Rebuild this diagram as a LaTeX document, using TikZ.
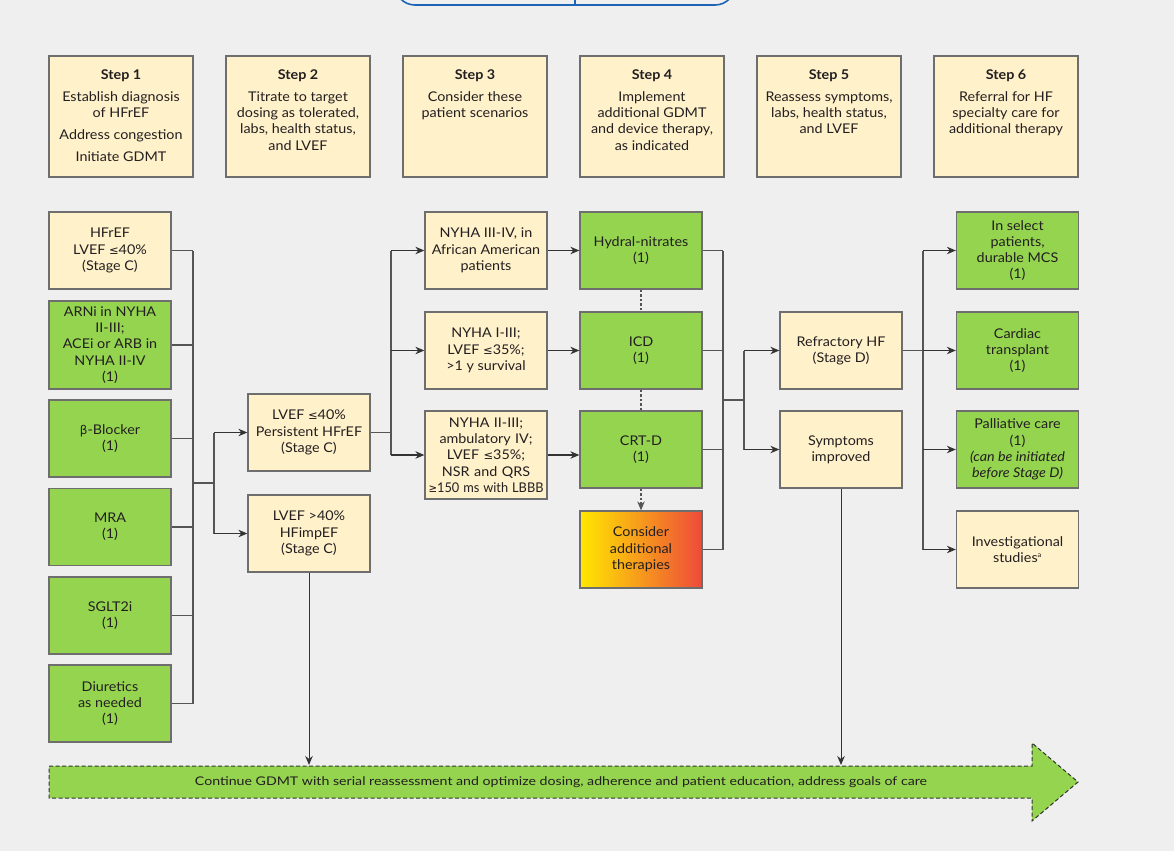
\documentclass[tikz,border=0pt]{standalone}
\usepackage{fontspec}
\setmainfont{Lato}[FakeStretch=1.07]
\newfontfamily\symf{DejaVu Sans}
\usetikzlibrary{arrows.meta}
\newcommand{\myle}{{\symf\fontsize{11.5}{11}\selectfont ≤}}
\newcommand{\myge}{{\symf\fontsize{11.5}{11}\selectfont ≥}}
\newcommand{\mybeta}{{\symf\fontsize{12}{11}\selectfont β}}
\definecolor{bgc}{HTML}{EFEFEF}
\definecolor{creamc}{HTML}{FFF1CA}
\definecolor{greenc}{HTML}{94D44F}
\definecolor{bordc}{HTML}{6E6E6E}
\definecolor{linec}{HTML}{555555}
\definecolor{arrc}{HTML}{333333}
\definecolor{txtc}{HTML}{231F20}
\definecolor{bluec}{HTML}{1E64B4}
\definecolor{yelc}{HTML}{FFE800}
\definecolor{orac}{HTML}{F8A92A}
\definecolor{redc}{HTML}{EE4A3A}
\begin{document}
\begin{tikzpicture}[x=1pt,y=-1pt,
  boxfont/.style={font=\fontsize{13.4}{16.3}\selectfont},
  base/.style={draw=bordc, line width=1.3pt, align=center, minimum width=122pt,
    minimum height=77pt, inner sep=1pt, text=txtc, boxfont},
  creambox/.style={base, fill=creamc},
  greenbox/.style={base, fill=greenc},
  stepbox/.style={draw=bordc, line width=1.3pt, fill=creamc, minimum width=144pt, minimum height=121pt, inner sep=0pt},
  steptext/.style={anchor=north, align=center, inner sep=0pt, text=txtc, boxfont},
  conn/.style={draw=linec, line width=1.2pt},
  arr/.style={draw=arrc, line width=1.2pt, -{Stealth[length=9pt,width=7.5pt]}},
  dotl/.style={draw=linec, line width=1.2pt, dash pattern=on 2.5pt off 2pt},
]
\useasboundingbox (0,0) rectangle (1174,851);
\fill[bgc] (0,0) rectangle (1174,851);
\begin{scope}
\clip (0,0) rectangle (1174,851);
\draw[bluec, line width=1.6pt, rounded corners=20pt] (395,-60) rectangle (735,5);
\draw[bluec, line width=1.2pt] (575,-10) -- (575,5);
\end{scope}

% Step boxes
\foreach \i/\cx in {1/121,2/298,3/475,4/652,5/829,6/1006}{
  \node[stepbox] (s\i) at (\cx,116.5) {};
}
\node[steptext] (t1) at ([yshift=-14pt]s1.north) {\textbf{Step 1}\\[5.5pt]Establish diagnosis\\of HFrEF\\[5.5pt]Address congestion\\[5.5pt]Initiate GDMT};
\node[steptext] (t2) at ([yshift=-14pt]s2.north) {\textbf{Step 2}\\[5.5pt]Titrate to target\\dosing as tolerated,\\labs, health status,\\and LVEF};
\node[steptext] (t3) at ([yshift=-14pt]s3.north) {\textbf{Step 3}\\[5.5pt]Consider these\\patient scenarios};
\node[steptext] (t4) at ([yshift=-14pt]s4.north) {\textbf{Step 4}\\[5.5pt]Implement\\additional GDMT\\and device therapy,\\as indicated};
\node[steptext] (t5) at ([yshift=-14pt]s5.north) {\textbf{Step 5}\\[5.5pt]Reassess symptoms,\\labs, health status,\\and LVEF};
\node[steptext] (t6) at ([yshift=-14pt]s6.north) {\textbf{Step 6}\\[5.5pt]Referral for HF\\specialty care for\\additional therapy};

% Left column
\node[creambox] (hfref) at (110,250.5) {HFrEF\\LVEF \myle40\%\\(Stage C)};
\node[greenbox, minimum height=88pt] (arni) at (110,345) {ARNi in NYHA\\II-III;\\ACEi or ARB in\\NYHA II-IV\\(1)};
\node[greenbox] (beta) at (110,438.5) {\mybeta-Blocker\\(1)};
\node[greenbox] (mra) at (110,527) {MRA\\(1)};
\node[greenbox] (sglt) at (110,615.5) {SGLT2i\\(1)};
\node[greenbox] (diur) at (110,703.5) {Diuretics\\as needed\\(1)};

% Step 2 column
\node[creambox] (lvefA) at (309,432.5) {LVEF \myle40\%\\Persistent HFrEF\\(Stage C)};
\node[creambox] (lvefB) at (309,533.5) {LVEF >40\%\\HFimpEF\\(Stage C)};

% Step 3 column
\node[creambox] (nyhaA) at (486,250.5) {NYHA III-IV, in\\African American\\patients};
\node[creambox] (nyhaB) at (486,350.5) {NYHA I-III;\\LVEF \myle35\%;\\>1 y survival};
\node[creambox, minimum height=88pt, text width=120pt, inner sep=0pt] (nyhaC) at (486,455) {NYHA II-III;\\ambulatory IV;\\LVEF \myle35\%;\\NSR and QRS\\\resizebox{115pt}{\height}{\myge150 ms with LBBB}};

% Step 4 column
\node[greenbox] (hydral) at (641,250.5) {Hydral-nitrates\\(1)};
\node[greenbox] (icd) at (641,350.5) {ICD\\(1)};
\node[greenbox] (crtd) at (641,449.5) {CRT-D\\(1)};
\node[base, left color=yelc, middle color=orac, right color=redc] (consider) at (641,549.5) {Consider\\additional\\therapies};

% Step 5 column
\node[creambox] (refr) at (841,350.5) {Refractory HF\\(Stage D)};
\node[creambox] (symp) at (841,449.5) {Symptoms\\improved};

% Step 6 column
\node[greenbox] (mcs) at (1017.5,250.5) {In select\\patients,\\durable MCS\\(1)};
\node[greenbox] (cardiac) at (1017.5,350.5) {Cardiac\\transplant\\(1)};
\node[greenbox] (pall) at (1017.5,449.5) {Palliative care\\(1)\\\textit{(can be initiated}\\\textit{before Stage D)}};
\node[creambox] (invest) at (1017.5,549.5) {Investigational\\studies\textsuperscript{\fontsize{7}{7}\selectfont a}};

% bus coordinates
\coordinate (busL) at (193,0);
\coordinate (brL) at (214,483);
\coordinate (bus2) at (391,0);
\coordinate (bus4) at (723,0);
\coordinate (br4) at (744,400);
\coordinate (bus5) at (923,0);
\coordinate (gtop) at (0,765);

% left bus
\foreach \n in {hfref,arni,beta,mra,sglt,diur}{
  \draw[conn] (\n.east) -- (\n.east -| busL);
}
\draw[conn] (hfref.east -| busL) -- (diur.east -| busL);
\draw[conn] (brL -| busL) -- (brL);
\draw[conn] (brL |- lvefA.west) -- (brL |- lvefB.west);
\draw[arr] (brL |- lvefA.west) -- (lvefA.west);
\draw[arr] (brL |- lvefB.west) -- (lvefB.west);

% step 2 -> step 3
\draw[conn] (lvefA.east) -- (lvefA.east -| bus2);
\draw[conn] (nyhaA.west -| bus2) -- (nyhaC.west -| bus2);
\draw[arr] (nyhaA.west -| bus2) -- (nyhaA.west);
\draw[arr] (nyhaB.west -| bus2) -- (nyhaB.west);
\draw[arr] (nyhaC.west -| bus2) -- (nyhaC.west);

% step 3 -> step 4
\draw[arr] (nyhaA.east) -- (hydral.west);
\draw[arr] (nyhaB.east) -- (icd.west);
\draw[arr] (nyhaC.east) -- (nyhaC.east -| crtd.west);
\draw[dotl] (hydral.south) -- (icd.north);
\draw[dotl] (icd.south) -- (crtd.north);
\draw[dotl, -{Stealth[length=9pt,width=7.5pt]}] (crtd.south) -- (consider.north);

% step 4 bus
\foreach \n in {hydral,icd,crtd,consider}{
  \draw[conn] (\n.east) -- (\n.east -| bus4);
}
\draw[conn] (hydral.east -| bus4) -- (consider.east -| bus4);
\draw[conn] (br4 -| bus4) -- (br4);
\draw[conn] (br4 |- refr.west) -- (br4 |- symp.west);
\draw[arr] (br4 |- refr.west) -- (refr.west);
\draw[arr] (br4 |- symp.west) -- (symp.west);

% step 5 -> step 6
\draw[conn] (refr.east) -- (refr.east -| bus5);
\draw[conn] (mcs.west -| bus5) -- (invest.west -| bus5);
\foreach \n in {mcs,cardiac,pall,invest}{
  \draw[arr] (\n.west -| bus5) -- (\n.west);
}

% big arrow
\draw[fill=greenc, draw=arrc, line width=1pt, dash pattern=on 4pt off 2.5pt]
  (49,766) -- (1032,766) -- (1032,743) -- (1078,782) -- (1032,821) -- (1032,798) -- (49,798) -- cycle;
\node[inner sep=0pt, text=txtc] (gdmt) at (561,782) {\resizebox{732pt}{8.8pt}{Continue GDMT with serial reassessment and optimize dosing, adherence and patient education, address goals of care}};

\draw[arr, line width=1pt] (lvefB.south) -- (lvefB.south |- gtop);
\draw[arr, line width=1pt] (symp.south) -- (symp.south |- gtop);
\end{tikzpicture}
\end{document}
